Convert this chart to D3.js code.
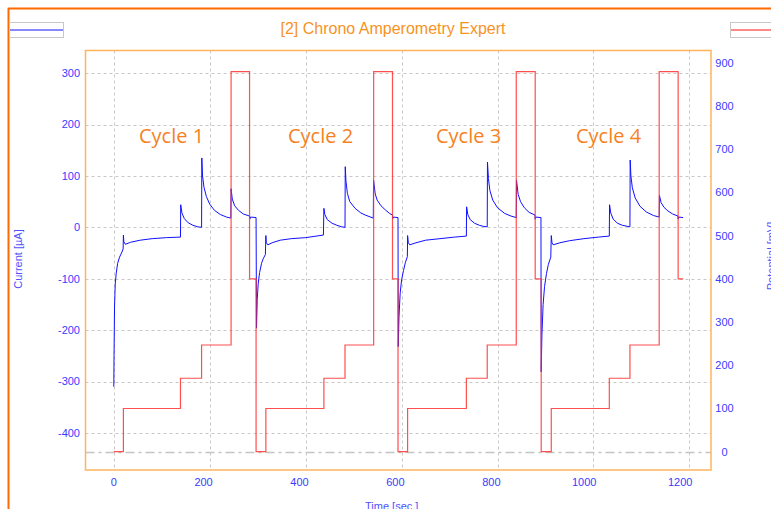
<!DOCTYPE html>
<html>
<head>
<meta charset="utf-8">
<script src="https://cdn.jsdelivr.net/npm/d3@7"></script>
<style>
  body { margin: 0; background: #fff; }
  svg { display: block; font-family: "Liberation Sans", Arial, sans-serif; }
</style>
</head>
<body>
<div id="chart"></div>
<script>
// potential steps (mV), held from each time until the next
var potentialTime  = [0, 20, 139, 183, 244.5, 283, 296.6, 317, 438, 482, 541.7, 581, 592.5, 612.5, 735, 778.5, 839, 878.5, 891, 912, 1033, 1076, 1137, 1176.5, 1187];
var potentialValue = [0, 100, 170, 247, 880, 400, 0, 100, 170, 247, 880, 400, 0, 100, 170, 247, 880, 400, 0, 100, 170, 247, 880, 400, 400];

// current (uA), one pair of arrays per cycle
var cycle1Time    = [0, 0.5, 1.5, 3, 5, 8, 12, 16, 19.5, 20, 21, 24, 35, 55, 80, 110, 139, 139.5, 142, 147, 155, 165, 175, 183, 183.5, 185, 188, 193, 200, 210, 222, 235, 244, 244.5, 247, 252, 260, 270, 283, 283.5, 285, 296.6];
var cycle1Current = [-310, -250, -155, -110, -90, -70, -58, -50, -42, -15, -28, -33, -29, -25, -22, -20, -19, 44, 28, 17, 9, 4, 1, 0, 135, 100, 78, 60, 45, 33, 25, 20, 18, 75, 55, 42, 33, 26, 22, 16, 20, 19];

var cycle2Time    = [297.5, 299, 301, 304, 308, 312, 316, 317, 318, 321, 330, 347, 370, 400, 437, 438, 440, 445, 455, 465, 475, 482, 482.5, 484, 487, 492, 503, 515, 524, 541, 541.5, 545, 549, 557, 566, 575, 581, 581.5, 583, 592.5];
var cycle2Current = [-196, -140, -110, -88, -70, -60, -53, -16, -30, -34, -30, -25, -22, -20, -15, 37, 25, 15, 8, 4, 1, 0, 118, 90, 66, 50, 37, 28, 24, 18, 92, 65, 53, 42, 34, 27, 24, 17, 20, 19];

var cycle3Time    = [593, 594.5, 597, 600, 604, 608, 612, 612.5, 614, 617, 630, 650, 680, 710, 735, 735.5, 738, 743, 752, 762, 770, 778.5, 779, 781, 784, 790, 800, 815, 828, 839, 839.5, 843, 848, 856, 866, 878, 878.5, 880, 890.5];
var cycle3Current = [-232, -175, -128, -102, -84, -68, -57, -16, -30, -34, -30, -25, -22, -19, -17, 40, 25, 15, 8, 4, 2, 1, 127, 95, 72, 53, 38, 27, 22, 19, 92, 64, 50, 38, 29, 24, 16, 20, 19];

var cycle4Time    = [891, 892.5, 895, 898, 902, 906, 911, 912, 913.5, 916, 930, 950, 980, 1010, 1033, 1033.5, 1036, 1041, 1050, 1060, 1076, 1076.5, 1078, 1081, 1087, 1097, 1110, 1125, 1137, 1137.5, 1141, 1147, 1155, 1165, 1176, 1176.5, 1178, 1187];
var cycle4Current = [-281, -210, -150, -115, -90, -72, -58, -16, -30, -34, -30, -26, -22, -19, -17, 44, 28, 16, 8, 4, 1, 131, 100, 77, 57, 41, 30, 23, 20, 62, 48, 39, 32, 26, 22, 16, 20, 19];

var timeTicks = [0, 200, 400, 600, 800, 1000, 1200];
var currentTicks = [-400, -300, -200, -100, 0, 100, 200, 300];
var potentialTicks = [0, 100, 200, 300, 400, 500, 600, 700, 800, 900];
var cycleNames = ["Cycle 1", "Cycle 2", "Cycle 3", "Cycle 4"];

var width = 771, height = 509;
var plot = {left: 85.5, right: 711, top: 50.5, bottom: 470};

var svg = d3.select("#chart").append("svg")
  .attr("width", width)
  .attr("height", height);

var x = d3.scaleLinear().domain([-59, 1245]).range([plot.left, plot.right]);
var yCur = d3.scaleLinear().domain([-472, 344]).range([plot.bottom, plot.top]);
var yPot = d3.scaleLinear().domain([-42.4, 928.7]).range([plot.bottom, plot.top]);

var axisBlue = "#3a3aff";

// outer frame (top and left edges only are on screen)
svg.append("line").attr("x1", 8).attr("x2", width).attr("y1", 8.5).attr("y2", 8.5)
  .attr("stroke", "#ff6a00").attr("stroke-width", 2);
svg.append("line").attr("x1", 8.5).attr("x2", 8.5).attr("y1", 8).attr("y2", height)
  .attr("stroke", "#ff6a00").attr("stroke-width", 2);

// legend boxes
svg.append("rect").attr("x", 9.5).attr("y", 22.5).attr("width", 54).attr("height", 15)
  .attr("fill", "#fff").attr("stroke", "#c8c8c8");
svg.append("line").attr("x1", 10).attr("x2", 63).attr("y1", 30).attr("y2", 30)
  .attr("stroke", "#6060ff").attr("stroke-width", 1.5);
svg.append("rect").attr("x", 730.5).attr("y", 22.5).attr("width", 54).attr("height", 15)
  .attr("fill", "#fff").attr("stroke", "#c8c8c8");
svg.append("line").attr("x1", 731).attr("x2", width).attr("y1", 30).attr("y2", 30)
  .attr("stroke", "#ff6060").attr("stroke-width", 1.5);

// title
svg.append("text").attr("x", 393).attr("y", 34)
  .attr("text-anchor", "middle")
  .attr("fill", "#f7931e")
  .style("font-size", "16px")
  .text("[2] Chrono Amperometry Expert");

// gridlines
var grid = svg.append("g").attr("stroke", "#c8c8c8").attr("stroke-dasharray", "3,3");
grid.selectAll("line.h").data(currentTicks).enter().append("line")
  .attr("x1", plot.left).attr("x2", plot.right)
  .attr("y1", function(d) { return Math.round(yCur(d)) + 0.5; })
  .attr("y2", function(d) { return Math.round(yCur(d)) + 0.5; });
grid.selectAll("line.v").data(timeTicks).enter().append("line")
  .attr("y1", plot.top).attr("y2", plot.bottom)
  .attr("x1", function(d) { return Math.round(x(d)) + 0.5; })
  .attr("x2", function(d) { return Math.round(x(d)) + 0.5; });

// potential zero line (dash-dot)
svg.append("line")
  .attr("x1", plot.left).attr("x2", plot.right)
  .attr("y1", Math.round(yPot(0)) + 0.5).attr("y2", Math.round(yPot(0)) + 0.5)
  .attr("stroke", "#c4c4c4").attr("stroke-width", 1.4)
  .attr("stroke-dasharray", "9,4,3,4");

// plot frame
svg.append("rect")
  .attr("x", plot.left).attr("y", plot.top)
  .attr("width", plot.right - plot.left).attr("height", plot.bottom - plot.top)
  .attr("fill", "none").attr("stroke", "#ffb45c").attr("stroke-width", 1.5);

// tick labels
svg.append("g").selectAll("text").data(currentTicks).enter().append("text")
  .attr("x", 80).attr("y", function(d) { return yCur(d); })
  .attr("dy", "0.35em").attr("text-anchor", "end")
  .attr("fill", axisBlue).style("font-size", "11px")
  .text(function(d) { return d; });

svg.append("g").selectAll("text").data(potentialTicks).enter().append("text")
  .attr("x", 724.5).attr("y", function(d) { return yPot(d); })
  .attr("dy", "0.35em").attr("text-anchor", "middle")
  .attr("fill", axisBlue).style("font-size", "11px")
  .text(function(d) { return d; });

svg.append("g").selectAll("text").data(timeTicks).enter().append("text")
  .attr("x", function(d) { return x(d) + 3; }).attr("y", 486)
  .attr("text-anchor", "end")
  .attr("fill", axisBlue).style("font-size", "11px")
  .text(function(d) { return d; });

// axis titles (cut by the window edge, as in the original)
svg.append("text").attr("x", 365).attr("y", 509.5)
  .attr("fill", "#5050ff").style("font-size", "11px")
  .text("Time [sec.]");
svg.append("text")
  .attr("transform", "translate(22,259) rotate(-90)")
  .attr("text-anchor", "middle")
  .attr("fill", "#5050ff").style("font-size", "11px")
  .text("Current [\u00b5A]");
svg.append("text")
  .attr("transform", "translate(775,256) rotate(-90)")
  .attr("text-anchor", "middle")
  .attr("fill", "#5050ff").style("font-size", "11px")
  .text("Potential [mV]");

// current trace
var current = [];
[[cycle1Time, cycle1Current], [cycle2Time, cycle2Current],
 [cycle3Time, cycle3Current], [cycle4Time, cycle4Current]].forEach(function(c) {
  c[0].forEach(function(t, i) { current.push([t, c[1][i]]); });
});

var curLine = d3.line()
  .x(function(d) { return x(d[0]); })
  .y(function(d) { return yCur(d[1]); });

svg.append("path")
  .datum(current)
  .attr("d", curLine)
  .attr("fill", "none")
  .attr("stroke", "#1010ff")
  .attr("stroke-width", 1);

// potential steps
var potLine = d3.line()
  .curve(d3.curveStepAfter)
  .x(function(d) { return x(d[0]); })
  .y(function(d) { return yPot(d[1]); });

svg.append("path")
  .datum(potentialTime.map(function(t, i) { return [t, potentialValue[i]]; }))
  .attr("d", potLine)
  .attr("fill", "none")
  .attr("stroke", "#ff3030")
  .attr("stroke-opacity", 0.85)
  .attr("stroke-width", 1.2);

// cycle labels
svg.append("g").selectAll("text").data(cycleNames).enter().append("text")
  .attr("x", function(d, i) { return [139, 288, 436, 576][i]; })
  .attr("y", 143)
  .attr("fill", "#f5821f")
  .style("font-family", "'Open Sans', sans-serif")
  .style("font-size", "20px")
  .text(function(d) { return d; });
</script>
</body>
</html>
